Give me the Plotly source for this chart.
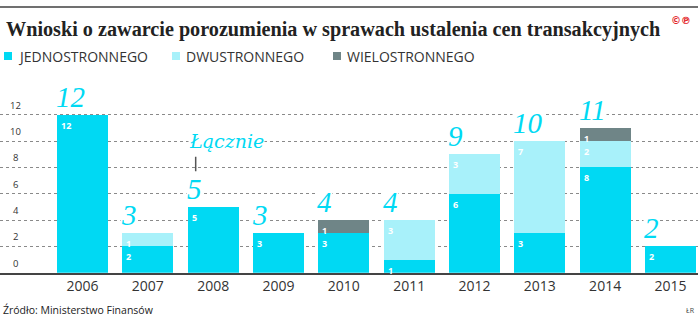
import plotly.graph_objects as go

# ---- data ----
years = ["2006", "2007", "2008", "2009", "2010", "2011", "2012", "2013", "2014", "2015"]
jednostronne = [12, 2, 5, 3, 3, 1, 6, 3, 8, 2]
dwustronne = [0, 1, 0, 0, 0, 3, 3, 7, 2, 0]
wielostronne = [0, 0, 0, 0, 1, 0, 0, 0, 1, 0]
totals = [12, 3, 5, 3, 4, 4, 9, 10, 11, 2]
y_ticks = [0, 2, 4, 6, 8, 10, 12]
series_names = ["JEDNOSTRONNEGO", "DWUSTRONNEGO", "WIELOSTRONNEGO"]

# ---- style ----
W, H = 698, 324
C1, C2, C3 = "#00d9f3", "#a8f1fa", "#6f8587"
TXT = "#333333"
BAR_W = 0.78
idx = list(range(len(years)))

fig = go.Figure()
for vals, col, name in [(jednostronne, C1, series_names[0]),
                        (dwustronne, C2, series_names[1]),
                        (wielostronne, C3, series_names[2])]:
    fig.add_trace(go.Bar(x=idx, y=vals, name=name, marker=dict(color=col, line=dict(width=0)),
                         width=BAR_W, showlegend=False, hoverinfo="skip"))

ann = []
# segment labels
for i in idx:
    base = 0
    for vals in (jednostronne, dwustronne, wielostronne):
        v = vals[i]
        if v > 0:
            top = base + v
            ann.append(dict(x=i - BAR_W / 2, y=top, xref="x", yref="y", text=f"<b>{v}</b>",
                            showarrow=False, xanchor="left", yanchor="top", xshift=2, yshift=-2,
                            font=dict(family="Open Sans", size=9, color="white")))
            base = top
# totals
for i in idx:
    ann.append(dict(x=i - BAR_W / 2, y=totals[i], xref="x", yref="y", text=f"<i>{totals[i]}</i>",
                    showarrow=False, xanchor="left", yanchor="bottom", xshift=-2, yshift=1,
                    bgcolor="white", borderpad=0,
                    font=dict(family="Liberation Serif", size=29, color=C1)))
# "Łącznie"
ann.append(dict(x=2 - BAR_W / 2, y=10, xref="x", yref="y", text="<i>Łącznie</i>", showarrow=False,
                xanchor="left", yanchor="middle", xshift=0, bgcolor="white", borderpad=0,
                font=dict(family="DejaVu Serif", size=19, color=C1)))
# y tick labels
for t in y_ticks:
    ann.append(dict(x=15.5 / W, y=t, xref="paper", yref="y", text=str(t), showarrow=False,
                    xanchor="center", yanchor="bottom", yshift=1,
                    font=dict(family="Open Sans", size=9.5, color=TXT)))
# title
ann.append(dict(x=4 / W, y=1 - 30 / H, xref="paper", yref="paper", xanchor="left", yanchor="middle",
                text="<b>Wnioski o zawarcie porozumienia w sprawach ustalenia cen transakcyjnych</b>",
                showarrow=False, font=dict(family="Liberation Serif", size=20.2, color="#222222")))
ann.append(dict(x=681 / W, y=1 - 21 / H, xref="paper", yref="paper", xanchor="center", yanchor="middle",
                text="<b>©℗</b>", showarrow=False, font=dict(family="DejaVu Sans", size=10, color="#e3262a")))
# legend
legend_x = [4, 172, 333]
shapes = []
for lx, col, name in zip(legend_x, (C1, C2, C3), series_names):
    shapes.append(dict(type="rect", xref="paper", yref="paper", x0=lx / W, x1=(lx + 8) / W,
                       y0=1 - 60 / H, y1=1 - 52 / H, fillcolor=col, line=dict(width=0)))
    ann.append(dict(x=(lx + 12) / W, y=1 - 56 / H, xref="paper", yref="paper", xanchor="left",
                    yanchor="middle", text=name, showarrow=False,
                    font=dict(family="Open Sans", size=14, color=TXT)))
# footer
ann.append(dict(x=1 / W, y=1 - 310 / H, xref="paper", yref="paper", xanchor="left", yanchor="middle",
                text="Źródło: Ministerstwo Finansów", showarrow=False,
                font=dict(family="Open Sans", size=10.5, color="#222222")))
ann.append(dict(x=690 / W, y=1 - 310 / H, xref="paper", yref="paper", xanchor="center", yanchor="middle",
                text="ŁR", showarrow=False, font=dict(family="Open Sans", size=7, color="#444444")))

# top rule
shapes.append(dict(type="line", xref="paper", yref="paper", x0=0, x1=1, y0=1 - 7 / H, y1=1 - 7 / H,
                   line=dict(color="#707070", width=2)))
# Łącznie pointer
px = 2 - BAR_W / 2 + 8 / 65.33
shapes.append(dict(type="line", xref="x", yref="y", x0=px, x1=px, y0=7.7, y1=8.8,
                   line=dict(color="#555555", width=1.5)))

unit = 158 / 12.0
y0_pix, ytop_pix = 272.7, 60
fig.update_layout(
    width=W, height=H, margin=dict(l=0, r=0, t=0, b=0),
    paper_bgcolor="white", plot_bgcolor="white",
    barmode="stack", bargap=0,
    annotations=ann, shapes=shapes,
    xaxis=dict(range=[-82.5 / 65.33, -82.5 / 65.33 + W / 65.33], domain=[0, 1],
               tickvals=idx, ticktext=years, ticks="", showgrid=False, zeroline=False,
               showline=True, linecolor="#444444", linewidth=1.5,
               tickfont=dict(family="Open Sans", size=14, color=TXT), automargin=False),
    yaxis=dict(range=[0, (y0_pix - ytop_pix) / unit], domain=[1 - y0_pix / H, 1 - ytop_pix / H],
               tickvals=y_ticks[1:], showticklabels=False, ticks="", showgrid=True,
               gridcolor="#8a8a8a", griddash="dot", gridwidth=1, zeroline=False, automargin=False),
)

fig.write_html("out.html")
